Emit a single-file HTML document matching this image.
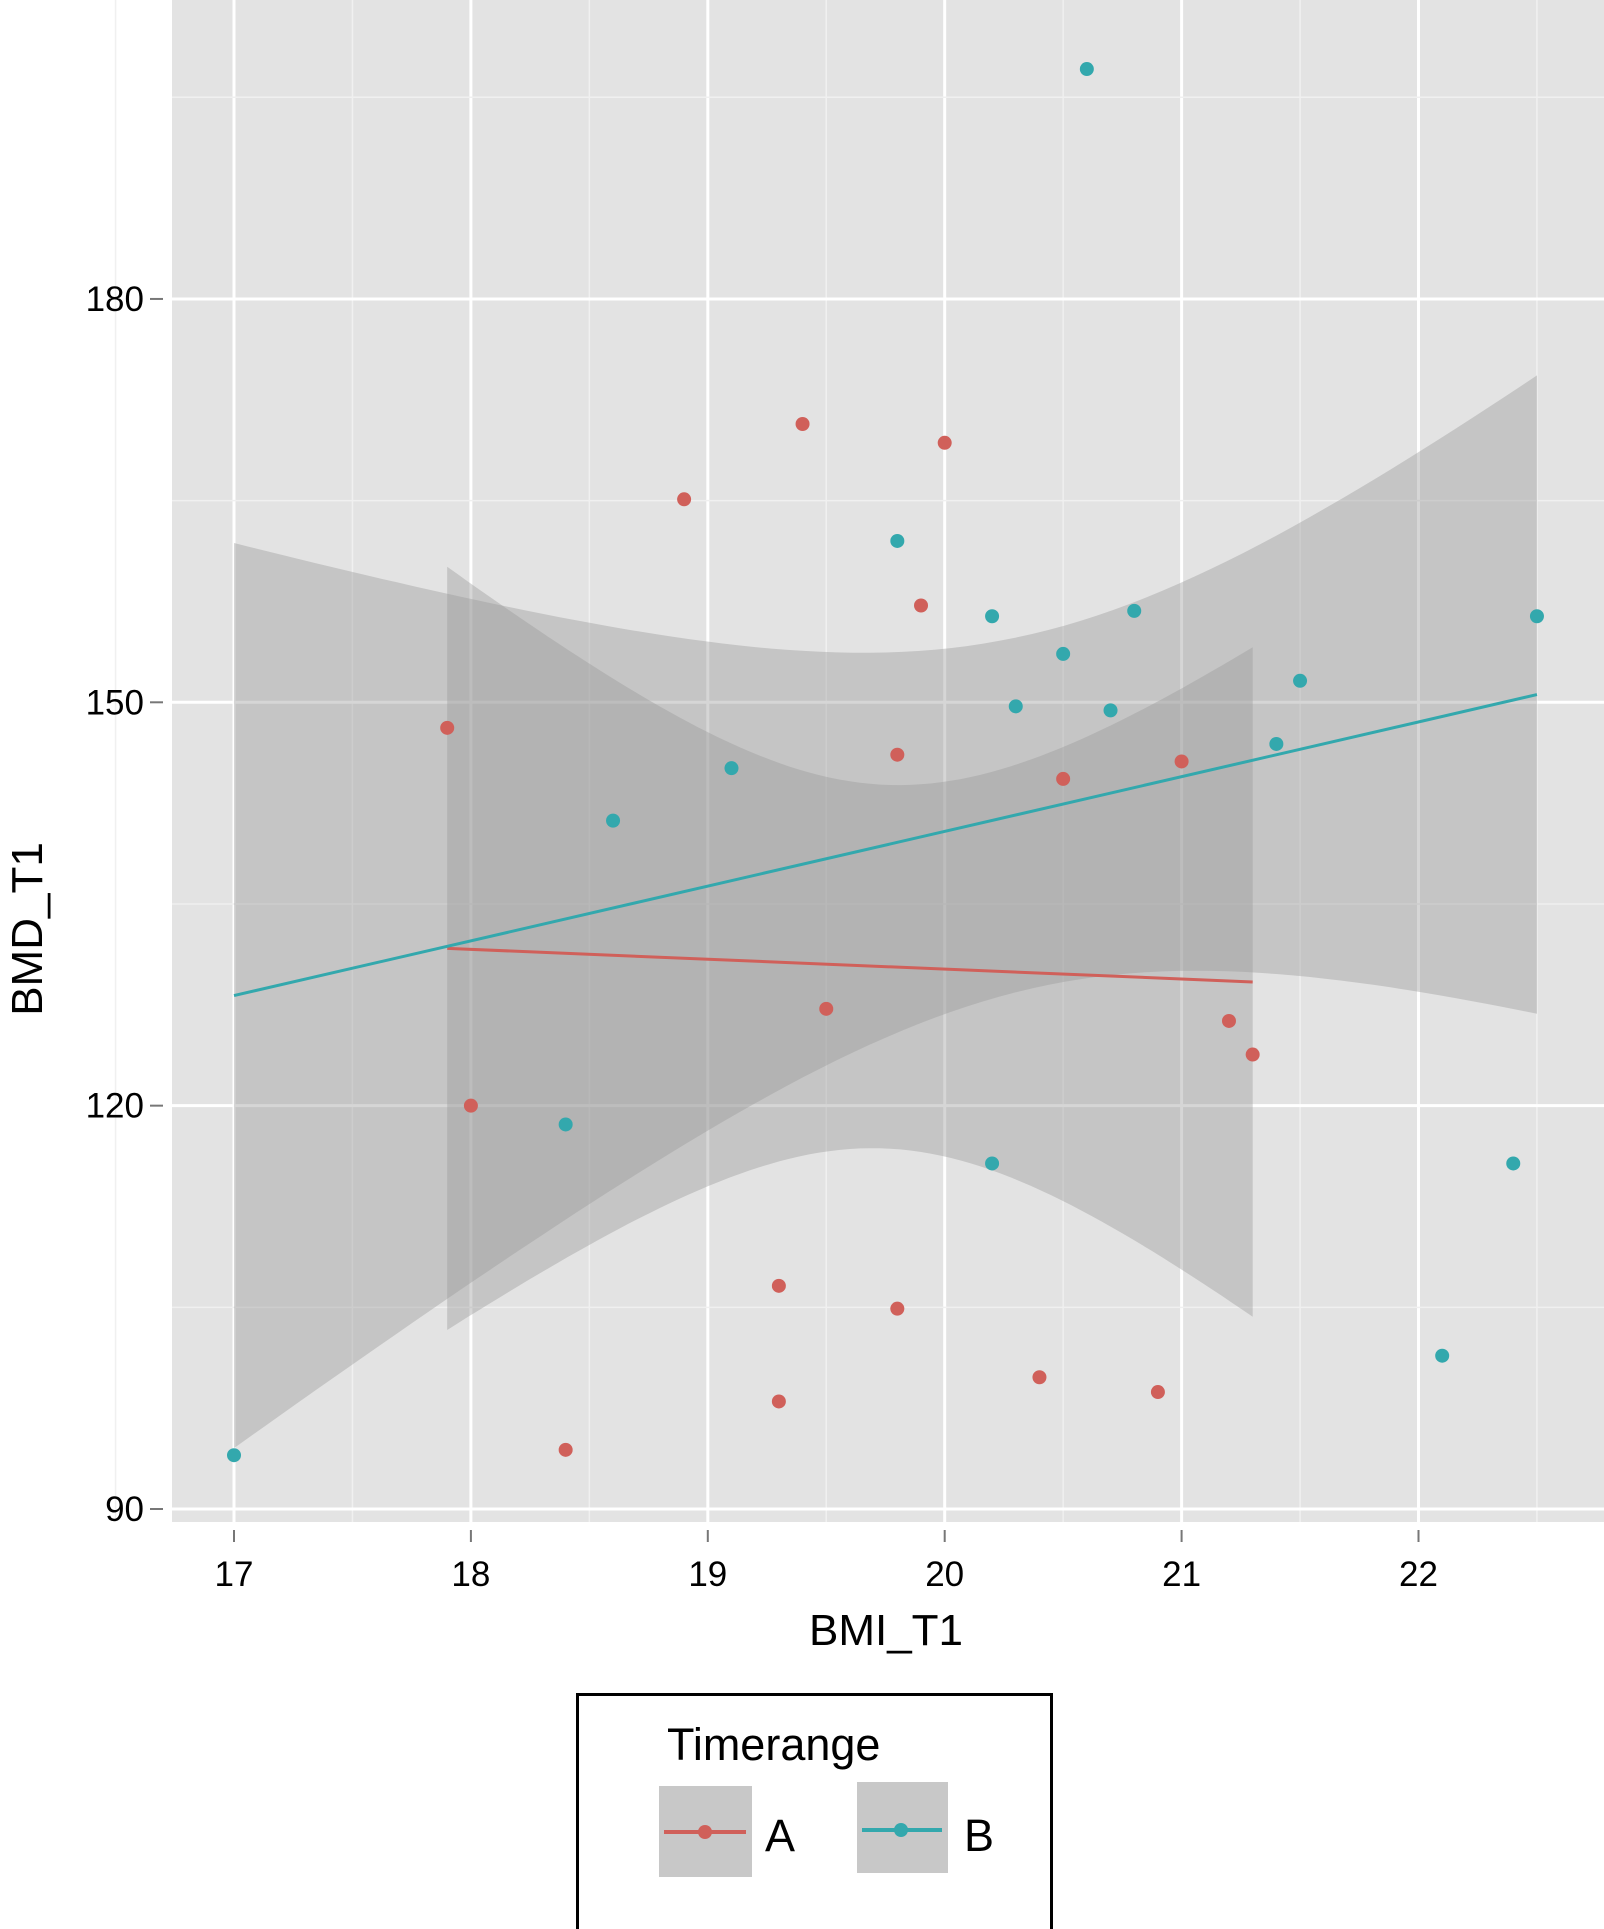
<!DOCTYPE html>
<html><head><meta charset="utf-8"><style>
html,body{margin:0;padding:0;background:#fff;}
svg{display:block;font-family:"Liberation Sans",Arial,sans-serif;}
</style></head><body>
<svg id="chart" width="1604" height="1929" viewBox="0 0 1604 1929" xmlns="http://www.w3.org/2000/svg">
<rect x="172" y="0" width="1432" height="1522" fill="#e3e3e3"/>
<g id="grid"></g>
<g id="bands"></g>
<g id="lines"></g>
<g id="points"></g>
<g id="axes"></g>
<text x="886" y="1645" font-size="44" text-anchor="middle" fill="#000">BMI_T1</text>
<text x="0" y="0" font-size="44" text-anchor="middle" fill="#000" transform="translate(42,929) rotate(-90)">BMD_T1</text>
<g>
<rect x="577.5" y="1694.5" width="474" height="240" fill="#fff" stroke="#000" stroke-width="3"/>
<text x="667" y="1760" font-size="45" fill="#000">Timerange</text>
<g>
<rect x="659" y="1786" width="93" height="91" fill="#c8c8c8"/>
<line x1="664" y1="1832" x2="746" y2="1832" stroke="#d0605a" stroke-width="4"/>
<circle cx="705" cy="1832" r="7" fill="#d0605a"/>
<text x="765" y="1851" font-size="45" fill="#000">A</text>
</g>
<g>
<rect x="857" y="1782" width="91" height="91" fill="#c8c8c8"/>
<line x1="862" y1="1830" x2="942" y2="1830" stroke="#33a8ad" stroke-width="4"/>
<circle cx="901" cy="1830" r="7" fill="#33a8ad"/>
<text x="964" y="1851" font-size="45" fill="#000">B</text>
</g>
</g>
</svg>
<script>
const xTicks = [17, 18, 19, 20, 21, 22];
const yTicks = [90, 120, 150, 180];
const aX = [17.9, 18.0, 18.4, 18.9, 19.3, 19.3, 19.4, 19.5, 19.8, 19.8, 19.9, 20.0, 20.4, 20.5, 20.9, 21.0, 21.2, 21.3];
const aY = [148.1, 120.0, 94.4, 165.1, 106.6, 98.0, 170.7, 127.2, 146.1, 104.9, 157.2, 169.3, 99.8, 144.3, 98.7, 145.6, 126.3, 123.8];
const bX = [17.0, 18.4, 18.6, 19.1, 19.8, 20.2, 20.2, 20.3, 20.5, 20.6, 20.7, 20.8, 21.4, 21.5, 22.1, 22.4, 22.5];
const bY = [94.0, 118.6, 141.2, 145.1, 162.0, 156.4, 115.7, 149.7, 153.6, 197.1, 149.4, 156.8, 146.9, 151.6, 101.4, 115.7, 156.4];

const NS = "http://www.w3.org/2000/svg";
const X0 = 234, XS = 236.9, Y0 = 1509, YS = 13.445;
function sx(v){ return X0 + (v - 17) * XS; }
function sy(v){ return Y0 - (v - 90) * YS; }
function mk(parent, tag, attrs){
  const e = document.createElementNS(NS, tag);
  for (const k in attrs) e.setAttribute(k, attrs[k]);
  document.getElementById(parent).appendChild(e);
  return e;
}
for (let i = 0; i < xTicks.length; i++) {
  const v = xTicks[i];
  const mn = mk('grid','line',{x1:sx(v-0.5),x2:sx(v-0.5),y1:0,y2:1522,stroke:'#f0f0f0','stroke-width':1.5});
  
  
  const g = mk('grid','line',{x1:sx(v),x2:sx(v),y1:0,y2:1522,stroke:'#fff','stroke-width':3});
  
  
}
const lastMinor = mk('grid','line',{x1:sx(22.5),x2:sx(22.5),y1:0,y2:1522,stroke:'#f0f0f0','stroke-width':1.5});


for (let i = 0; i < yTicks.length; i++) {
  const v = yTicks[i];
  const mn = mk('grid','line',{x1:172,x2:1604,y1:sy(v+15),y2:sy(v+15),stroke:'#f0f0f0','stroke-width':1.5});
  
  
  const g = mk('grid','line',{x1:172,x2:1604,y1:sy(v),y2:sy(v),stroke:'#fff','stroke-width':3});
  
  
}
for (let i = 0; i < xTicks.length; i++) {
  const v = xTicks[i];
  const t = mk('axes','line',{x1:sx(v),x2:sx(v),y1:1530,y2:1542,stroke:'#777','stroke-width':2});
  
  
  const l = mk('axes','text',{x:sx(v),y:1586,'font-size':35,'text-anchor':'middle',fill:'#000'});
  l.textContent = v;
  
  
}
for (let i = 0; i < yTicks.length; i++) {
  const v = yTicks[i];
  const t = mk('axes','line',{x1:150,x2:163,y1:sy(v),y2:sy(v),stroke:'#777','stroke-width':2});
  
  
  const l = mk('axes','text',{x:144,y:sy(v)+12,'font-size':35,'text-anchor':'end',fill:'#000'});
  l.textContent = v;
  
  
}
function fit(xs, ys, tval){
  const n = xs.length;
  const mx = xs.reduce((a,b)=>a+b,0)/n, my = ys.reduce((a,b)=>a+b,0)/n;
  let sxx = 0, sxy = 0;
  for (let i=0;i<n;i++){ sxx += (xs[i]-mx)**2; sxy += (xs[i]-mx)*(ys[i]-my); }
  const b = sxy/sxx, a = my - b*mx;
  let sse = 0;
  for (let i=0;i<n;i++) sse += (ys[i]-a-b*xs[i])**2;
  const s = Math.sqrt(sse/(n-2));
  return {a, b, mx, sxx, s, n, t:tval, lo:Math.min(...xs), hi:Math.max(...xs)};
}
function drawFit(f, color, name){
  const up = [], dn = [];
  for (let k=0;k<=80;k++){
    const x = f.lo + (f.hi-f.lo)*k/80;
    const yh = f.a + f.b*x;
    const se = f.s*Math.sqrt(1/f.n + (x-f.mx)**2/f.sxx);
    up.push(sx(x).toFixed(1)+','+sy(yh+f.t*se).toFixed(1));
    dn.unshift(sx(x).toFixed(1)+','+sy(yh-f.t*se).toFixed(1));
  }
  const band = mk('bands','polygon',{points:up.concat(dn).join(' '),fill:'#999','fill-opacity':0.4});
  
  
  const ln = mk('lines','line',{x1:sx(f.lo),y1:sy(f.a+f.b*f.lo),x2:sx(f.hi),y2:sy(f.a+f.b*f.hi),stroke:color,'stroke-width':3});
  
  
}
drawFit(fit(aX,aY,2.12),'#d0605a','series-a');
drawFit(fit(bX,bY,2.131),'#33a8ad','series-b');
function drawPts(xs, ys, color, name){
  for (let i=0;i<xs.length;i++){
    const c = mk('points','circle',{cx:sx(xs[i]),cy:sy(ys[i]),r:7,fill:color});
    
    
  }
}
drawPts(aX,aY,'#d0605a','series-a');
drawPts(bX,bY,'#33a8ad','series-b');
</script>
</body></html>
